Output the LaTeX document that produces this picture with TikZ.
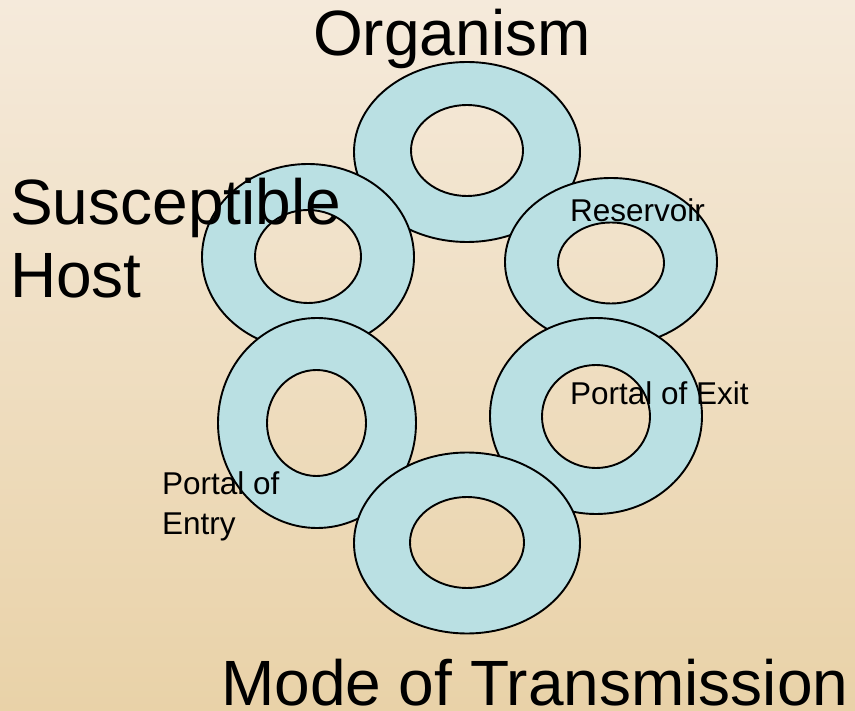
\documentclass[tikz,border=0pt]{standalone}
\usepackage{fontspec}
\setmainfont{Liberation Sans}
\definecolor{bgtop}{HTML}{F5EADB}
\definecolor{bgbottom}{HTML}{E9D2A8}
\definecolor{ringfill}{HTML}{BAE0E3}
\begin{document}
\begin{tikzpicture}[x=1pt,y=-1pt,
  ring/.style={fill=ringfill,even odd rule,draw=black,line width=1.9pt},
  bigtext/.style={anchor=base west,inner sep=0pt,font=\fontsize{64}{74}\selectfont},
  smalltext/.style={anchor=base west,inner sep=0pt,font=\fontsize{31.5}{38}\selectfont}]
  % background
  \shade[top color=bgtop,bottom color=bgbottom] (0,0) rectangle (855,711);
  \useasboundingbox (0,0) rectangle (855,711);

  % ring centres
  \coordinate (org) at (467,152);
  \coordinate (host) at (308,257);
  \coordinate (res) at (611,262);
  \coordinate (entry) at (317,423);
  \coordinate (exit) at (596,416);
  \coordinate (mode) at (467,543);

  % rings, back to front
  \path[ring] (org) ellipse [x radius=113pt,y radius=90pt]
              (467,150.5) ellipse [x radius=56pt,y radius=45.5pt];
  \path[ring] (host) ellipse [x radius=106pt,y radius=93pt]
              (308,256.5) ellipse [x radius=53pt,y radius=46.5pt];
  \path[ring] (res) ellipse [x radius=106pt,y radius=84pt]
              (611,263) ellipse [x radius=53pt,y radius=40.5pt];
  \path[ring] (entry) ellipse [x radius=99pt,y radius=105pt]
              (316.5,423) ellipse [x radius=49.5pt,y radius=53pt];
  \path[ring] (exit) ellipse [x radius=106pt,y radius=98pt]
              (596,416.5) ellipse [x radius=54pt,y radius=51.5pt];
  \path[ring] (mode) ellipse [x radius=113pt,y radius=90.5pt]
              (467,542.5) ellipse [x radius=57pt,y radius=45.5pt];

  % labels
  \node[bigtext] (lorg) at (313,56) {Organism};
  \node[bigtext] (lsus) at (10,225) {Susceptible};
  \node[bigtext] (lhost) at (10,298) {Host};
  \node[bigtext] (lmode) at (221,705) {Mode of Transmission};
  \node[smalltext] (lres) at (570,222) {Reservoir};
  \node[smalltext] (lexit) at (570,405) {Portal of Exit};
  \node[smalltext] (lent1) at (162,495) {Portal of};
  \node[smalltext] (lent2) at (162,534) {Entry};
\end{tikzpicture}
\end{document}
